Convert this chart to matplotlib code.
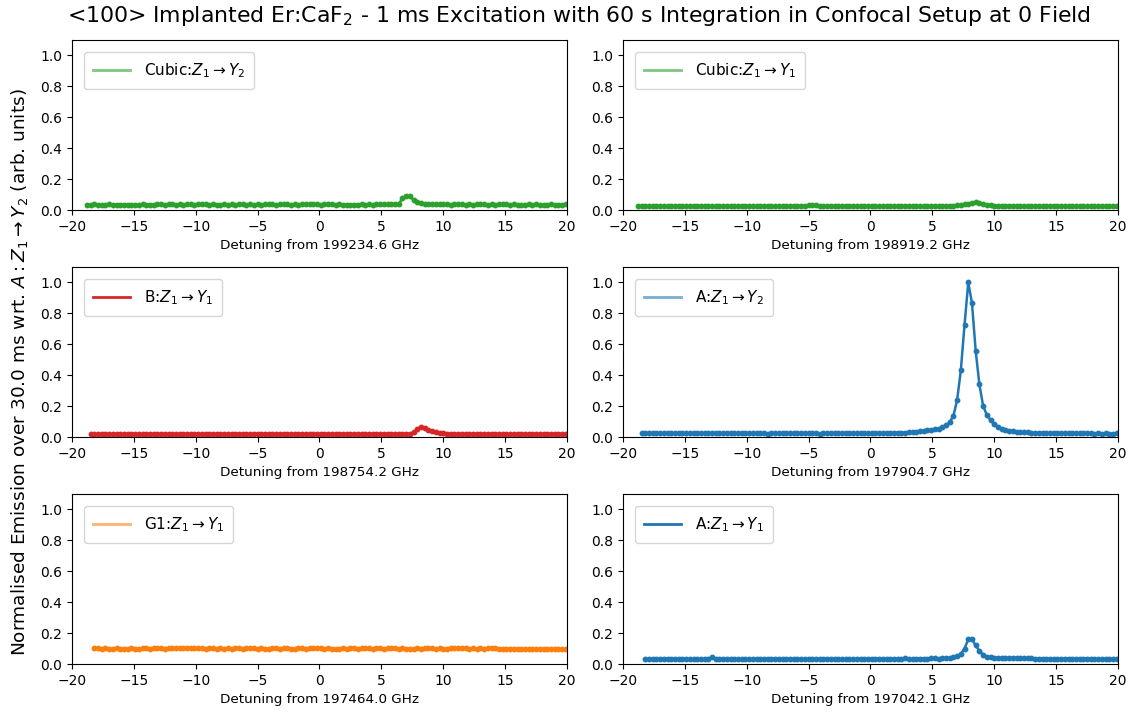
import numpy as np
import matplotlib.pyplot as plt
from matplotlib.lines import Line2D

# Passo do varrimento em GHz e pontos iniciais de cada painel
passo = 0.3

# Cubic Z1 -> Y2, referência 199234.6 GHz
cubic_y2_inicio = -18.8
cubic_y2 = [
    0.035, 0.034, 0.036, 0.035, 0.034, 0.035, 0.036, 0.034, 0.035, 0.035,
    0.034, 0.035, 0.034, 0.033, 0.035, 0.036, 0.035, 0.034, 0.035, 0.036,
    0.036, 0.035, 0.036, 0.037, 0.035, 0.036, 0.035, 0.037, 0.036, 0.035,
    0.036, 0.037, 0.036, 0.035, 0.036, 0.035, 0.034, 0.036, 0.035, 0.036,
    0.035, 0.036, 0.037, 0.035, 0.036, 0.035, 0.036, 0.035, 0.036, 0.037,
    0.036, 0.035, 0.036, 0.037, 0.036, 0.035, 0.036, 0.035, 0.036, 0.037,
    0.036, 0.037, 0.036, 0.035, 0.036, 0.037, 0.036, 0.035, 0.036, 0.035,
    0.034, 0.035, 0.034, 0.035, 0.036, 0.035, 0.036, 0.035, 0.036, 0.037,
    0.036, 0.037, 0.038, 0.037, 0.040, 0.075, 0.090, 0.088, 0.065, 0.052,
    0.045, 0.041, 0.039, 0.038, 0.037, 0.036, 0.037, 0.036, 0.035, 0.036,
    0.037, 0.036, 0.035, 0.036, 0.035, 0.036, 0.037, 0.036, 0.035, 0.036,
    0.035, 0.036, 0.037, 0.036, 0.035, 0.036, 0.035, 0.034, 0.035, 0.036,
    0.035, 0.036, 0.035, 0.034, 0.035, 0.036, 0.035, 0.034, 0.035, 0.036,
]

# Cubic Z1 -> Y1, referência 198919.2 GHz
cubic_y1_inicio = -18.8
cubic_y1 = [
    0.027, 0.026, 0.028, 0.027, 0.026, 0.027, 0.028, 0.026, 0.027, 0.027,
    0.026, 0.027, 0.028, 0.027, 0.026, 0.027, 0.026, 0.027, 0.028, 0.027,
    0.027, 0.026, 0.027, 0.028, 0.027, 0.026, 0.027, 0.026, 0.027, 0.028,
    0.027, 0.028, 0.027, 0.026, 0.027, 0.028, 0.027, 0.026, 0.027, 0.026,
    0.027, 0.026, 0.027, 0.028, 0.027, 0.028, 0.030, 0.033, 0.032, 0.028,
    0.027, 0.026, 0.027, 0.026, 0.027, 0.028, 0.027, 0.026, 0.027, 0.026,
    0.027, 0.028, 0.027, 0.026, 0.027, 0.026, 0.027, 0.028, 0.027, 0.026,
    0.027, 0.026, 0.027, 0.028, 0.027, 0.026, 0.027, 0.026, 0.027, 0.028,
    0.027, 0.028, 0.027, 0.028, 0.028, 0.029, 0.030, 0.033, 0.037, 0.042,
    0.048, 0.052, 0.048, 0.040, 0.034, 0.030, 0.029, 0.028, 0.028, 0.027,
    0.028, 0.027, 0.026, 0.027, 0.028, 0.027, 0.026, 0.027, 0.026, 0.027,
    0.028, 0.027, 0.026, 0.027, 0.026, 0.025, 0.026, 0.027, 0.026, 0.025,
    0.026, 0.025, 0.026, 0.027, 0.026, 0.025, 0.026, 0.025, 0.026, 0.025,
]

# B Z1 -> Y1, referência 198754.2 GHz
b_y1_inicio = -18.5
b_y1 = [
    0.019, 0.018, 0.020, 0.019, 0.018, 0.019, 0.020, 0.019, 0.018, 0.019,
    0.020, 0.019, 0.020, 0.019, 0.018, 0.019, 0.020, 0.019, 0.020, 0.019,
    0.019, 0.020, 0.019, 0.018, 0.019, 0.020, 0.019, 0.020, 0.019, 0.020,
    0.020, 0.019, 0.020, 0.021, 0.020, 0.019, 0.020, 0.019, 0.020, 0.021,
    0.020, 0.019, 0.020, 0.019, 0.020, 0.021, 0.020, 0.019, 0.020, 0.019,
    0.020, 0.021, 0.020, 0.019, 0.020, 0.019, 0.020, 0.021, 0.020, 0.019,
    0.020, 0.019, 0.020, 0.021, 0.020, 0.019, 0.020, 0.021, 0.020, 0.019,
    0.020, 0.021, 0.020, 0.019, 0.020, 0.021, 0.020, 0.021, 0.020, 0.021,
    0.020, 0.021, 0.020, 0.021, 0.020, 0.021, 0.022, 0.030, 0.050, 0.068,
    0.060, 0.048, 0.040, 0.033, 0.028, 0.025, 0.022, 0.021, 0.020, 0.021,
    0.020, 0.021, 0.020, 0.019, 0.020, 0.021, 0.020, 0.019, 0.020, 0.019,
    0.020, 0.019, 0.018, 0.019, 0.020, 0.019, 0.020, 0.019, 0.020, 0.021,
    0.020, 0.019, 0.020, 0.019, 0.020, 0.021, 0.020, 0.019, 0.020,
]

# A Z1 -> Y2, referência 197904.7 GHz
a_y2_inicio = -18.5
a_y2 = [
    0.024, 0.023, 0.025, 0.024, 0.023, 0.024, 0.025, 0.024, 0.023, 0.024,
    0.025, 0.024, 0.025, 0.024, 0.023, 0.024, 0.025, 0.024, 0.023, 0.024,
    0.024, 0.023, 0.024, 0.025, 0.024, 0.023, 0.024, 0.023, 0.024, 0.025,
    0.024, 0.023, 0.024, 0.023, 0.022, 0.023, 0.024, 0.023, 0.024, 0.023,
    0.024, 0.023, 0.024, 0.025, 0.024, 0.023, 0.024, 0.023, 0.022, 0.023,
    0.024, 0.023, 0.024, 0.023, 0.024, 0.025, 0.024, 0.025, 0.024, 0.025,
    0.025, 0.024, 0.025, 0.026, 0.025, 0.026, 0.025, 0.026, 0.027, 0.026,
    0.027, 0.028, 0.030, 0.032, 0.034, 0.037, 0.040, 0.043, 0.046, 0.050,
    0.055, 0.063, 0.075, 0.097, 0.137, 0.239, 0.432, 0.727, 1.000, 0.867,
    0.557, 0.340, 0.202, 0.142, 0.110, 0.084, 0.067, 0.054, 0.047, 0.042,
    0.038, 0.035, 0.033, 0.031, 0.030, 0.029, 0.028, 0.027, 0.027, 0.026,
    0.026, 0.025, 0.025, 0.024, 0.025, 0.024, 0.024, 0.023, 0.024, 0.023,
    0.024, 0.023, 0.022, 0.023, 0.022, 0.023, 0.022, 0.022, 0.023,
]

# G1 Z1 -> Y1, referência 197464.0 GHz
g1_y1_inicio = -18.2
g1_y1 = [
    0.103, 0.101, 0.100, 0.102, 0.100, 0.099, 0.101, 0.100, 0.099, 0.100,
    0.101, 0.100, 0.099, 0.101, 0.102, 0.100, 0.101, 0.102, 0.101, 0.100,
    0.102, 0.101, 0.103, 0.104, 0.103, 0.106, 0.104, 0.102, 0.101, 0.103,
    0.100, 0.101, 0.102, 0.100, 0.101, 0.099, 0.101, 0.100, 0.102, 0.101,
    0.095, 0.101, 0.103, 0.102, 0.100, 0.101, 0.095, 0.099, 0.101, 0.102,
    0.100, 0.103, 0.101, 0.100, 0.097, 0.101, 0.102, 0.100, 0.101, 0.102,
    0.104, 0.102, 0.100, 0.101, 0.095, 0.099, 0.100, 0.101, 0.100, 0.102,
    0.101, 0.100, 0.102, 0.103, 0.101, 0.100, 0.102, 0.101, 0.099, 0.101,
    0.102, 0.101, 0.100, 0.101, 0.100, 0.097, 0.099, 0.101, 0.100, 0.101,
    0.102, 0.101, 0.100, 0.101, 0.100, 0.099, 0.101, 0.102, 0.101, 0.106,
    0.103, 0.100, 0.101, 0.099, 0.101, 0.100, 0.101, 0.104, 0.101, 0.100,
    0.099, 0.100, 0.099, 0.100, 0.098, 0.099, 0.097, 0.099, 0.098, 0.097,
    0.099, 0.098, 0.097, 0.098, 0.097, 0.098, 0.096, 0.097,
]

# A Z1 -> Y1, referência 197042.1 GHz
a_y1_inicio = -18.2
a_y1 = [
    0.032, 0.031, 0.033, 0.032, 0.031, 0.032, 0.033, 0.032, 0.031, 0.032,
    0.033, 0.032, 0.031, 0.032, 0.033, 0.032, 0.031, 0.033, 0.045, 0.033,
    0.032, 0.033, 0.032, 0.031, 0.032, 0.033, 0.032, 0.033, 0.032, 0.031,
    0.032, 0.033, 0.032, 0.031, 0.032, 0.033, 0.032, 0.031, 0.032, 0.033,
    0.032, 0.031, 0.032, 0.033, 0.032, 0.031, 0.032, 0.031, 0.032, 0.033,
    0.032, 0.033, 0.032, 0.031, 0.032, 0.033, 0.032, 0.031, 0.032, 0.033,
    0.032, 0.033, 0.032, 0.033, 0.032, 0.033, 0.032, 0.033, 0.034, 0.033,
    0.038, 0.034, 0.033, 0.034, 0.035, 0.034, 0.035, 0.036, 0.038, 0.035,
    0.036, 0.037, 0.039, 0.043, 0.050, 0.065, 0.100, 0.160, 0.160, 0.120,
    0.085, 0.060, 0.048, 0.043, 0.041, 0.040, 0.040, 0.041, 0.040, 0.041,
    0.040, 0.039, 0.038, 0.037, 0.036, 0.035, 0.034, 0.035, 0.034, 0.033,
    0.034, 0.033, 0.034, 0.033, 0.034, 0.035, 0.034, 0.033, 0.034, 0.033,
    0.034, 0.033, 0.032, 0.033, 0.032, 0.033, 0.032, 0.031,
]

paineis = [
    (cubic_y2_inicio, cubic_y2, 'Cubic:$Z_1 \\rightarrow Y_2$', '#2ca02c', 0.6, '199234.6'),
    (cubic_y1_inicio, cubic_y1, 'Cubic:$Z_1 \\rightarrow Y_1$', '#2ca02c', 0.6, '198919.2'),
    (b_y1_inicio, b_y1, 'B:$Z_1 \\rightarrow Y_1$', '#d62728', 1.0, '198754.2'),
    (a_y2_inicio, a_y2, 'A:$Z_1 \\rightarrow Y_2$', '#1f77b4', 0.6, '197904.7'),
    (g1_y1_inicio, g1_y1, 'G1:$Z_1 \\rightarrow Y_1$', '#ff7f0e', 0.6, '197464.0'),
    (a_y1_inicio, a_y1, 'A:$Z_1 \\rightarrow Y_1$', '#1f77b4', 1.0, '197042.1'),
]

fig, axs = plt.subplots(3, 2, figsize=(11.37, 7.15), dpi=100)
fig.subplots_adjust(left=0.0633, right=0.9833, top=0.944, bottom=0.0713,
                    wspace=0.113, hspace=0.335)

for ax, (inicio, y, rotulo, cor, alfa, ref) in zip(axs.flat, paineis):
    x = inicio + passo * np.arange(len(y))
    ax.plot(x, y, marker='o', markersize=3.2, linewidth=1.8, color=cor)
    ax.set_xlim(-20, 20)
    ax.set_ylim(0, 1.1)
    ax.set_xticks(np.arange(-20, 21, 5))
    ax.set_yticks(np.arange(0, 1.01, 0.2))
    ax.set_xlabel(f'Detuning from {ref} GHz', fontsize=9.7)
    alca = Line2D([], [], color=cor, alpha=alfa, linewidth=2)
    ax.legend([alca], [rotulo], loc='upper left', fontsize=11,
              borderaxespad=0.8, handlelength=2.4, handletextpad=0.9,
              borderpad=0.6)

fig.suptitle('<100> Implanted Er:CaF$_2$ - 1 ms Excitation with 60 s Integration in Confocal Setup at 0 Field',
             fontsize=15.8, x=0.509, y=0.995)
fig.supylabel('Normalised Emission over 30.0 ms wrt. $A:Z_1 \\rightarrow Y_2$ (arb. units)',
              fontsize=13.3, x=0.008, y=0.48)

plt.savefig('out.png')
